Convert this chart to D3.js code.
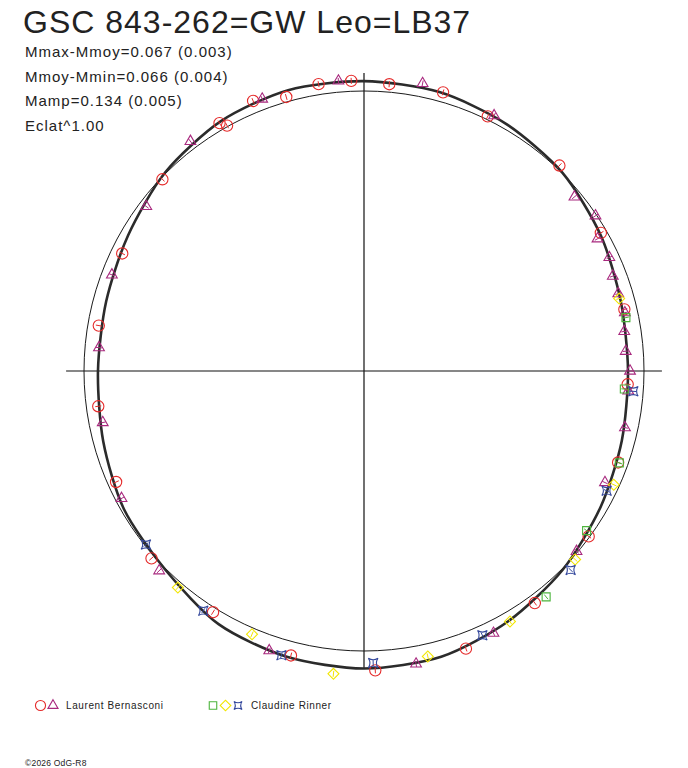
<!DOCTYPE html>
<html>
<head>
<meta charset="utf-8">
<script src="https://cdn.jsdelivr.net/npm/d3@7"></script>
<style>
  body { margin: 0; background: #fff; }
  svg { display: block; }
  text { font-family: "Liberation Sans", Arial, sans-serif; fill: #222; }
</style>
</head>
<body>
<div id="chart"></div>
<script>
const width = 688
const height = 768
const cx = 364
const cy = 371

const title = "GSC 843-262=GW Leo=LB37"
const infoLines = ["Mmax-Mmoy=0.067 (0.003)", "Mmoy-Mmin=0.066 (0.004)", "Mamp=0.134 (0.005)", "Eclat^1.00"]
const observers = ["Laurent Bernasconi", "Claudine Rinner"]
const credit = "©2026 OdG-R8"

// courbe moyenne (phase, ecart a la magnitude moyenne)
const fitPhase = [0, 0.042, 0.083, 0.125, 0.167, 0.208, 0.25, 0.292, 0.333, 0.375, 0.417, 0.458,
                  0.5, 0.542, 0.583, 0.625, 0.667, 0.708, 0.75, 0.792, 0.833, 0.875, 0.917, 0.958]
const fitMag = [0.063, 0.055, 0.028, -0.002, -0.020, -0.035, -0.039, -0.043, -0.031, -0.004, 0.031, 0.051,
                0.055, 0.039, 0.012, -0.004, -0.047, -0.063, -0.069, -0.063, -0.035, -0.004, 0.028, 0.051]

// Laurent Bernasconi - cercles
const lbCirclePhase = [0.275, 0.257, 0.294, 0.312, 0.334, 0.331, 0.379, 0.428, 0.473, 0.236, 0.206, 0.178, 0.129,
                       0.084, 0.037, 0.992, 0.945, 0.899, 0.851, 0.806, 0.756, 0.521, 0.567, 0.615, 0.661, 0.710]
const lbCircleMag = [-0.041, -0.041, -0.019, -0.047, -0.027, -0.004, 0.007, 0.044, 0.043, -0.031, -0.038, -0.012, -0.014,
                     0.023, 0.049, 0.063, 0.039, 0.004, -0.032, -0.062, -0.077, 0.047, 0.033, -0.013, -0.018, -0.054]
// Laurent Bernasconi - triangles
const lbTriPhase = [0.264, 0.307, 0.353, 0.397, 0.442, 0.486, 0.218, 0.175, 0.110, 0.094, 0.082, 0.069, 0.058, 0.047,
                    0.035, 0.024, 0.012, 0.000, 0.988, 0.966, 0.931, 0.888, 0.823, 0.778, 0.531, 0.577, 0.623, 0.698]
const lbTriMag = [-0.044, -0.041, -0.031, 0.028, 0.040, 0.055, -0.053, -0.026, 0.027, 0.005, 0.046, 0.038, 0.054, 0.056,
                  0.050, 0.066, 0.069, 0.055, 0.059, 0.051, 0.057, 0.005, -0.049, -0.069, 0.054, 0.024, -0.024, -0.060]
// Claudine Rinner - carres, losanges, etoiles
const crSquarePhase = [0.032, 0.989, 0.945, 0.901, 0.858]
const crSquareMag = [0.050, 0.075, 0.034, 0.024, -0.040]
const crDiamondPhase = [0.044, 0.932, 0.884, 0.834, 0.785, 0.734, 0.686, 0.637]
const crDiamondMag = [0.058, 0.022, -0.012, -0.039, -0.049, -0.096, -0.024, -0.022]
const crStarPhase = [0.988, 0.927, 0.878, 0.817, 0.755, 0.705, 0.656, 0.607]
const crStarMag = [0.039, 0.037, -0.027, -0.038, -0.048, -0.063, -0.034, 0.005]

const svg = d3.select("#chart")
  .append("svg")
  .attr("width", width)
  .attr("height", height)

// Escalas: phase -> angle (0 a droite, sens trigo), mag -> rayon
const angle = d3.scaleLinear().domain([0, 1]).range([Math.PI / 2, Math.PI / 2 - 2 * Math.PI])
const rad = d3.scaleLinear().domain([-0.1, 0.1]).range([305.4, 254.6])

const plot = svg.append("g").attr("transform", `translate(${cx}, ${cy})`)

// cercle moyen + axes
plot.append("circle")
  .attr("r", rad(0))
  .attr("fill", "none")
  .attr("stroke", "#1a1a1a")
  .attr("stroke-width", 1)

const axisR = rad(-0.0705)
plot.append("line").attr("x1", -axisR).attr("x2", axisR).attr("y1", 0).attr("y2", 0)
  .attr("stroke", "#111").attr("stroke-width", 1.2)
plot.append("line").attr("x1", 0).attr("x2", 0).attr("y1", -axisR).attr("y2", axisR)
  .attr("stroke", "#111").attr("stroke-width", 1.2)

// courbe
plot.append("path")
  .datum(d3.zip(fitPhase, fitMag))
  .attr("fill", "none")
  .attr("stroke", "#2b2b2b")
  .attr("stroke-width", 2.6)
  .attr("d", d3.lineRadial()
    .angle(d => angle(d[0]))
    .radius(d => rad(d[1]))
    .curve(d3.curveCardinalClosed.tension(0.2)))

const starPath = s => `M${-s},${-s}Q0,${-s * 0.35} ${s},${-s}Q${s * 0.35},0 ${s},${s}Q0,${s * 0.35} ${-s},${s}Q${-s * 0.35},0 ${-s},${-s}Z`

const series = [
  { phase: lbCirclePhase, mag: lbCircleMag, color: "#e52a2a", shape: d3.symbol(d3.symbolCircle, 100)() },
  { phase: lbTriPhase, mag: lbTriMag, color: "#a8287e", shape: d3.symbol(d3.symbolTriangle, 50)() },
  { phase: crSquarePhase, mag: crSquareMag, color: "#4cb43c", shape: d3.symbol(d3.symbolSquare, 64)() },
  { phase: crDiamondPhase, mag: crDiamondMag, color: "#f2e600", shape: d3.symbol(d3.symbolSquare, 60)(), rot: 45 },
  { phase: crStarPhase, mag: crStarMag, color: "#34489c", shape: starPath(4.8) },
]

series.forEach(s => {
  const pts = d3.zip(s.phase, s.mag).map(d => {
    const [x, y] = d3.pointRadial(angle(d[0]), rad(d[1]))
    return { x, y, a: angle(d[0]) }
  })
  const g = plot.append("g")
  const mk = g.selectAll("g").data(pts).join("g")
    .attr("transform", d => `translate(${d.x}, ${d.y})`)
  mk.append("path")
    .attr("d", s.shape)
    .attr("transform", s.rot ? `rotate(${s.rot})` : null)
    .attr("fill", "none")
    .attr("stroke", s.color)
    .attr("stroke-width", 1.1)
  // petite barre radiale
  mk.append("line")
    .attr("x1", d => -3 * Math.sin(d.a)).attr("y1", d => 3 * Math.cos(d.a))
    .attr("x2", d => 3 * Math.sin(d.a)).attr("y2", d => -3 * Math.cos(d.a))
    .attr("stroke", s.color)
    .attr("stroke-width", 1)
})

// textes
svg.append("text")
  .attr("x", 23).attr("y", 33)
  .attr("font-size", 32)
  .attr("letter-spacing", 1)
  .text(title)

svg.selectAll(".info").data(infoLines).join("text")
  .attr("class", "info")
  .attr("x", 25)
  .attr("y", (d, i) => 57 + i * 24.7)
  .attr("font-size", 15)
  .attr("letter-spacing", 1)
  .text(d => d)

// legende
const leg = svg.append("g").attr("transform", "translate(0, 705.5)")
leg.append("path").attr("transform", "translate(40.5,0)").attr("d", d3.symbol(d3.symbolCircle, 80)())
  .attr("fill", "none").attr("stroke", "#e52a2a").attr("stroke-width", 1.1)
leg.append("path").attr("transform", "translate(53,0)").attr("d", d3.symbol(d3.symbolTriangle, 44)())
  .attr("fill", "none").attr("stroke", "#a8287e").attr("stroke-width", 1.1)
leg.append("text").attr("x", 66).attr("y", 3.8).attr("font-size", 10).attr("letter-spacing", 0.6).text(observers[0])

leg.append("path").attr("transform", "translate(213,0)").attr("d", d3.symbol(d3.symbolSquare, 56)())
  .attr("fill", "none").attr("stroke", "#4cb43c").attr("stroke-width", 1.1)
leg.append("path").attr("transform", "translate(225.5,0) rotate(45)").attr("d", d3.symbol(d3.symbolSquare, 56)())
  .attr("fill", "none").attr("stroke", "#f2e600").attr("stroke-width", 1.1)
leg.append("path").attr("transform", "translate(238,0)").attr("d", starPath(4))
  .attr("fill", "none").attr("stroke", "#34489c").attr("stroke-width", 1.1)
leg.append("text").attr("x", 251).attr("y", 3.8).attr("font-size", 10).attr("letter-spacing", 0.6).text(observers[1])

svg.append("text")
  .attr("x", 25).attr("y", 766)
  .attr("font-size", 8.5)
  .attr("letter-spacing", 0.2)
  .text(credit)
</script>
</body>
</html>
